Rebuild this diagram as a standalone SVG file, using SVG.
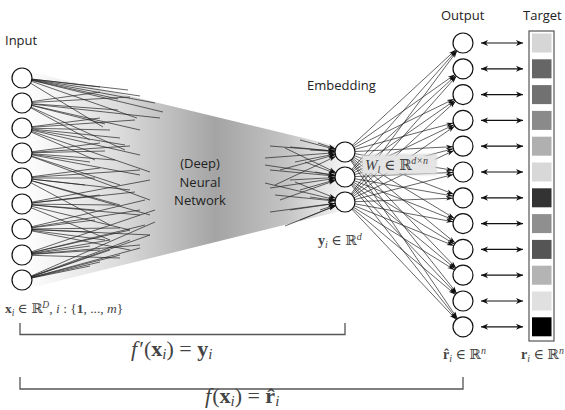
<svg xmlns="http://www.w3.org/2000/svg" width="565" height="410" viewBox="0 0 565 410">
<defs>
<style>
.lbl{font-family:"Open Sans","Noto Sans","DejaVu Sans",sans-serif;font-size:13px;fill:#222}
.m{font-family:"Liberation Serif","DejaVu Serif",serif;fill:#444}
.node{fill:#fff;stroke:#111;stroke-width:1.2}
.in line{stroke:#222;stroke-width:0.7}
.ar line{stroke:#222;stroke-width:0.7;marker-end:url(#ah)}
.dbl line{stroke:#111;stroke-width:1.2;marker-start:url(#dh);marker-end:url(#dh)}
.brk{fill:none;stroke:#555;stroke-width:1.3}
</style>
<linearGradient id="g" x1="22" y1="0" x2="345" y2="0" gradientUnits="userSpaceOnUse">
<stop offset="0" stop-color="#fff"/>
<stop offset="0.3" stop-color="#dcdcdc"/>
<stop offset="0.6" stop-color="#a4a4a4"/>
<stop offset="0.82" stop-color="#c4c4c4"/>
<stop offset="1" stop-color="#f6f6f6"/>
</linearGradient>
<marker id="ah" markerUnits="userSpaceOnUse" markerWidth="20" markerHeight="10" viewBox="0 0 20 10" refX="20" refY="5" orient="auto" overflow="visible">
<path d="M3,2.8 L10,5 L3,7.2 L5,5 z" fill="#111"/>
</marker>
<marker id="dh" markerUnits="userSpaceOnUse" markerWidth="10" markerHeight="10" viewBox="0 0 10 10" refX="7" refY="5" orient="auto-start-reverse" overflow="visible">
<path d="M0,2 L7,5 L0,8 L2,5 z" fill="#111"/>
</marker>
<filter id="soft" x="-20%" y="-40%" width="140%" height="180%"><feGaussianBlur stdDeviation="1.2"/></filter>
</defs>
<rect width="565" height="410" fill="#fff"/>
<polygon points="22,70 345,148 345,210 22,290" fill="url(#g)"/>
<g id="connectors">
<g class="in">
<line x1="22" y1="78" x2="163" y2="112"/><line x1="22" y1="78" x2="155" y2="103"/><line x1="22" y1="78" x2="140" y2="96"/><line x1="22" y1="78" x2="128" y2="90"/><line x1="22" y1="78" x2="100" y2="87"/><line x1="22" y1="78" x2="137" y2="118"/><line x1="22" y1="78" x2="103" y2="127"/><line x1="22" y1="78" x2="118" y2="99"/>
<line x1="22" y1="103" x2="100" y2="92"/><line x1="22" y1="103" x2="130" y2="97"/><line x1="22" y1="103" x2="118" y2="110"/><line x1="22" y1="103" x2="140" y2="130"/><line x1="22" y1="103" x2="105" y2="124"/><line x1="22" y1="103" x2="160" y2="118"/><line x1="22" y1="103" x2="90" y2="140"/><line x1="22" y1="103" x2="125" y2="150"/>
<line x1="22" y1="128" x2="100" y2="118"/><line x1="22" y1="128" x2="135" y2="120"/><line x1="22" y1="128" x2="110" y2="130"/><line x1="22" y1="128" x2="125" y2="145"/><line x1="22" y1="128" x2="140" y2="155"/><line x1="22" y1="128" x2="95" y2="160"/><line x1="22" y1="128" x2="150" y2="172"/><line x1="22" y1="128" x2="120" y2="138"/>
<line x1="22" y1="153" x2="100" y2="143"/><line x1="22" y1="153" x2="130" y2="146"/><line x1="22" y1="153" x2="115" y2="160"/><line x1="22" y1="153" x2="140" y2="175"/><line x1="22" y1="153" x2="90" y2="162"/><line x1="22" y1="153" x2="150" y2="200"/><line x1="22" y1="153" x2="120" y2="185"/><line x1="22" y1="153" x2="105" y2="151"/>
<line x1="22" y1="178" x2="100" y2="168"/><line x1="22" y1="178" x2="140" y2="170"/><line x1="22" y1="178" x2="95" y2="178"/><line x1="22" y1="178" x2="130" y2="190"/><line x1="22" y1="178" x2="120" y2="205"/><line x1="22" y1="178" x2="150" y2="215"/><line x1="22" y1="178" x2="110" y2="225"/><line x1="22" y1="178" x2="85" y2="185"/>
<line x1="22" y1="204" x2="100" y2="195"/><line x1="22" y1="204" x2="135" y2="192"/><line x1="22" y1="204" x2="115" y2="205"/><line x1="22" y1="204" x2="140" y2="215"/><line x1="22" y1="204" x2="95" y2="210"/><line x1="22" y1="204" x2="130" y2="230"/><line x1="22" y1="204" x2="150" y2="180"/><line x1="22" y1="204" x2="110" y2="240"/>
<line x1="22" y1="229" x2="95" y2="220"/><line x1="22" y1="229" x2="140" y2="210"/><line x1="22" y1="229" x2="120" y2="228"/><line x1="22" y1="229" x2="105" y2="240"/><line x1="22" y1="229" x2="150" y2="235"/><line x1="22" y1="229" x2="130" y2="250"/><line x1="22" y1="229" x2="90" y2="232"/><line x1="22" y1="229" x2="145" y2="200"/>
<line x1="22" y1="255" x2="110" y2="240"/><line x1="22" y1="255" x2="130" y2="230"/><line x1="22" y1="255" x2="145" y2="225"/><line x1="22" y1="255" x2="100" y2="250"/><line x1="22" y1="255" x2="140" y2="245"/><line x1="22" y1="255" x2="120" y2="258"/><line x1="22" y1="255" x2="155" y2="210"/><line x1="22" y1="255" x2="90" y2="246"/>
<line x1="22" y1="280" x2="100" y2="262"/><line x1="22" y1="280" x2="120" y2="255"/><line x1="22" y1="280" x2="140" y2="248"/><line x1="22" y1="280" x2="130" y2="240"/><line x1="22" y1="280" x2="150" y2="235"/><line x1="22" y1="280" x2="110" y2="250"/><line x1="22" y1="280" x2="155" y2="222"/><line x1="22" y1="280" x2="90" y2="266"/>
</g>
<g class="ar">
<line x1="290" y1="147" x2="345" y2="152"/><line x1="270" y1="146" x2="345" y2="152"/><line x1="300" y1="140" x2="345" y2="152"/><line x1="265" y1="158" x2="345" y2="152"/><line x1="310" y1="150" x2="345" y2="152"/><line x1="280" y1="170" x2="345" y2="152"/><line x1="295" y1="162" x2="345" y2="152"/><line x1="318" y1="143" x2="345" y2="152"/><line x1="275" y1="185" x2="345" y2="152"/>
<line x1="270" y1="170" x2="345" y2="177"/><line x1="290" y1="180" x2="345" y2="177"/><line x1="265" y1="165" x2="345" y2="177"/><line x1="300" y1="190" x2="345" y2="177"/><line x1="315" y1="172" x2="345" y2="177"/><line x1="280" y1="200" x2="345" y2="177"/><line x1="305" y1="162" x2="345" y2="177"/><line x1="270" y1="188" x2="345" y2="177"/><line x1="285" y1="148" x2="345" y2="177"/>
<line x1="275" y1="195" x2="345" y2="202"/><line x1="290" y1="210" x2="345" y2="202"/><line x1="270" y1="212" x2="345" y2="202"/><line x1="300" y1="220" x2="345" y2="202"/><line x1="310" y1="197" x2="345" y2="202"/><line x1="285" y1="226" x2="345" y2="202"/><line x1="265" y1="183" x2="345" y2="202"/><line x1="320" y1="210" x2="345" y2="202"/><line x1="295" y1="182" x2="345" y2="202"/>
</g>
<g class="ar">
<line x1="345" y1="152" x2="463" y2="43"/><line x1="345" y1="152" x2="463" y2="68.8"/><line x1="345" y1="152" x2="463" y2="94.6"/><line x1="345" y1="152" x2="463" y2="120.4"/><line x1="345" y1="152" x2="463" y2="146.2"/><line x1="345" y1="152" x2="463" y2="172"/><line x1="345" y1="152" x2="463" y2="197.8"/><line x1="345" y1="152" x2="463" y2="223.6"/><line x1="345" y1="152" x2="463" y2="249.4"/><line x1="345" y1="152" x2="463" y2="275.2"/><line x1="345" y1="152" x2="463" y2="301"/><line x1="345" y1="152" x2="463" y2="326.8"/>
<line x1="345" y1="177" x2="463" y2="43"/><line x1="345" y1="177" x2="463" y2="68.8"/><line x1="345" y1="177" x2="463" y2="94.6"/><line x1="345" y1="177" x2="463" y2="120.4"/><line x1="345" y1="177" x2="463" y2="146.2"/><line x1="345" y1="177" x2="463" y2="172"/><line x1="345" y1="177" x2="463" y2="197.8"/><line x1="345" y1="177" x2="463" y2="223.6"/><line x1="345" y1="177" x2="463" y2="249.4"/><line x1="345" y1="177" x2="463" y2="275.2"/><line x1="345" y1="177" x2="463" y2="301"/><line x1="345" y1="177" x2="463" y2="326.8"/>
<line x1="345" y1="202" x2="463" y2="43"/><line x1="345" y1="202" x2="463" y2="68.8"/><line x1="345" y1="202" x2="463" y2="94.6"/><line x1="345" y1="202" x2="463" y2="120.4"/><line x1="345" y1="202" x2="463" y2="146.2"/><line x1="345" y1="202" x2="463" y2="172"/><line x1="345" y1="202" x2="463" y2="197.8"/><line x1="345" y1="202" x2="463" y2="223.6"/><line x1="345" y1="202" x2="463" y2="249.4"/><line x1="345" y1="202" x2="463" y2="275.2"/><line x1="345" y1="202" x2="463" y2="301"/><line x1="345" y1="202" x2="463" y2="326.8"/>
</g>
<g class="dbl">
<line x1="481" y1="43" x2="523" y2="43"/><line x1="481" y1="68.8" x2="523" y2="68.8"/><line x1="481" y1="94.6" x2="523" y2="94.6"/><line x1="481" y1="120.4" x2="523" y2="120.4"/><line x1="481" y1="146.2" x2="523" y2="146.2"/><line x1="481" y1="172" x2="523" y2="172"/><line x1="481" y1="197.8" x2="523" y2="197.8"/><line x1="481" y1="223.6" x2="523" y2="223.6"/><line x1="481" y1="249.4" x2="523" y2="249.4"/><line x1="481" y1="275.2" x2="523" y2="275.2"/><line x1="481" y1="301" x2="523" y2="301"/><line x1="481" y1="326.8" x2="523" y2="326.8"/>
</g>
</g>
<g id="weight-label">
<rect x="361" y="154" width="76" height="21" fill="#d8d8d8" opacity="0.8" filter="url(#soft)"/>
<rect x="363" y="156" width="72" height="17" fill="#e6e6e6" opacity="0.85"/>
<text class="m" x="365" y="170" font-size="15" fill="#555"><tspan font-style="italic">W</tspan><tspan font-size="10" font-style="italic" dy="3">l</tspan><tspan dy="-3"> ∈ ℝ</tspan><tspan font-size="10" font-style="italic" dy="-6">d×n</tspan></text>
</g>
<g id="input-nodes">
<circle class="node" cx="22" cy="78" r="10"/><circle class="node" cx="22" cy="103" r="10"/><circle class="node" cx="22" cy="128" r="10"/><circle class="node" cx="22" cy="153" r="10"/><circle class="node" cx="22" cy="178" r="10"/><circle class="node" cx="22" cy="204" r="10"/><circle class="node" cx="22" cy="229" r="10"/><circle class="node" cx="22" cy="255" r="10"/><circle class="node" cx="22" cy="280" r="10"/>
</g>
<g id="embedding-nodes">
<circle class="node" cx="345" cy="152" r="10"/><circle class="node" cx="345" cy="177" r="10"/><circle class="node" cx="345" cy="202" r="10"/>
</g>
<g id="output-nodes">
<circle class="node" cx="463" cy="43" r="10"/><circle class="node" cx="463" cy="68.8" r="10"/><circle class="node" cx="463" cy="94.6" r="10"/><circle class="node" cx="463" cy="120.4" r="10"/><circle class="node" cx="463" cy="146.2" r="10"/><circle class="node" cx="463" cy="172" r="10"/><circle class="node" cx="463" cy="197.8" r="10"/><circle class="node" cx="463" cy="223.6" r="10"/><circle class="node" cx="463" cy="249.4" r="10"/><circle class="node" cx="463" cy="275.2" r="10"/><circle class="node" cx="463" cy="301" r="10"/><circle class="node" cx="463" cy="326.8" r="10"/>
</g>
<g id="target">
<rect x="529" y="31" width="25" height="310" fill="#fff" stroke="#555" stroke-width="1.2"/>
<rect x="532" y="33.5" width="19.5" height="19" fill="#d6d6d6"/>
<rect x="532" y="59.3" width="19.5" height="19" fill="#666"/>
<rect x="532" y="85.1" width="19.5" height="19" fill="#717171"/>
<rect x="532" y="110.9" width="19.5" height="19" fill="#8a8a8a"/>
<rect x="532" y="136.7" width="19.5" height="19" fill="#b0b0b0"/>
<rect x="532" y="162.5" width="19.5" height="19" fill="#d8d8d8"/>
<rect x="532" y="188.3" width="19.5" height="19" fill="#333"/>
<rect x="532" y="214.1" width="19.5" height="19" fill="#8f8f8f"/>
<rect x="532" y="239.9" width="19.5" height="19" fill="#555"/>
<rect x="532" y="265.7" width="19.5" height="19" fill="#b4b4b4"/>
<rect x="532" y="291.5" width="19.5" height="19" fill="#e0e0e0"/>
<rect x="532" y="317.3" width="19.5" height="19" fill="#000"/>
</g>
<g id="brackets">
<path class="brk" d="M20,323 V334.5 H345 V323"/>
<path class="brk" d="M20,377 V389 H463 V377"/>
</g>
<g id="labels">
<text class="lbl" x="5" y="45">Input</text>
<text class="lbl" x="307" y="90">Embedding</text>
<text class="lbl" x="441" y="20">Output</text>
<text class="lbl" x="523" y="20">Target</text>
<text class="lbl" x="200" y="168" text-anchor="middle">(Deep)</text>
<text class="lbl" x="200" y="187" text-anchor="middle">Neural</text>
<text class="lbl" x="200" y="205" text-anchor="middle">Network</text>
<text class="m" x="5" y="313" font-size="13.5"><tspan font-weight="bold">x</tspan><tspan font-size="9.5" font-style="italic" dy="2.5">i</tspan><tspan dy="-2.5"> ∈ ℝ</tspan><tspan font-size="9.5" font-style="italic" dy="-5">D</tspan><tspan dy="5">, </tspan><tspan font-style="italic">i</tspan><tspan> : {</tspan><tspan font-weight="bold">1</tspan><tspan>, ..., </tspan><tspan font-style="italic">m</tspan><tspan>}</tspan></text>
<text class="m" x="318" y="245" font-size="14"><tspan font-weight="bold">y</tspan><tspan font-size="10" font-style="italic" dy="2.5">i</tspan><tspan dy="-2.5"> ∈ ℝ</tspan><tspan font-size="10" font-style="italic" dy="-5">d</tspan></text>
<text class="m" x="443" y="359" font-size="14"><tspan font-weight="bold">r̂</tspan><tspan font-size="10" font-style="italic" dy="2.5">i</tspan><tspan dy="-2.5"> ∈ ℝ</tspan><tspan font-size="10" font-style="italic" dy="-5">n</tspan></text>
<text class="m" x="521" y="359" font-size="14"><tspan font-weight="bold">r</tspan><tspan font-size="10" font-style="italic" dy="2.5">i</tspan><tspan dy="-2.5"> ∈ ℝ</tspan><tspan font-size="10" font-style="italic" dy="-5">n</tspan></text>
<text class="m" x="131" y="356" font-size="22" fill="#111"><tspan font-style="italic">f</tspan><tspan dx="2">′(</tspan><tspan font-weight="bold">x</tspan><tspan font-size="15" font-style="italic" dy="3">i</tspan><tspan dy="-3">)  =  </tspan><tspan font-weight="bold">y</tspan><tspan font-size="15" font-style="italic" dy="3">i</tspan></text>
<text class="m" x="205" y="403" font-size="22" fill="#111"><tspan font-style="italic">f</tspan><tspan dx="1">(</tspan><tspan font-weight="bold">x</tspan><tspan font-size="15" font-style="italic" dy="3">i</tspan><tspan dy="-3">)  =  </tspan><tspan font-weight="bold">r̂</tspan><tspan font-size="15" font-style="italic" dy="3">i</tspan></text>
</g>
</svg>
